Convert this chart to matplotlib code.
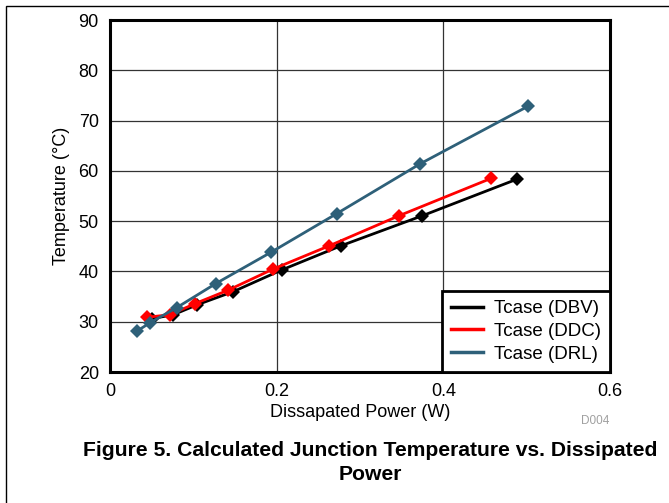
import matplotlib.pyplot as plt
from matplotlib.patches import Rectangle
from matplotlib.lines import Line2D

plt.rcParams['font.family'] = ['Liberation Sans', 'DejaVu Sans']

# ==============================
# Data
# ==============================
dbv_power = [0.050, 0.076, 0.105, 0.148, 0.206, 0.277, 0.375, 0.489]
dbv_temp = [30.6, 31.4, 33.4, 36.0, 40.3, 45.1, 51.1, 58.4]

ddc_power = [0.045, 0.072, 0.102, 0.142, 0.196, 0.263, 0.347, 0.457]
ddc_temp = [30.9, 31.4, 33.6, 36.3, 40.5, 45.1, 51.1, 58.5]

drl_power = [0.033, 0.048, 0.080, 0.127, 0.193, 0.272, 0.372, 0.502]
drl_temp = [28.2, 29.8, 32.8, 37.6, 43.8, 51.5, 61.4, 72.9]

series_names = ["Tcase (DBV)", "Tcase (DDC)", "Tcase (DRL)"]
series_colors = ["#000000", "#ff0000", "#2e6079"]

x_ticks = [0, 0.2, 0.4, 0.6]
x_tick_labels = ["0", "0.2", "0.4", "0.6"]
y_ticks = [20, 30, 40, 50, 60, 70, 80, 90]

# ==============================
# Figure
# ==============================
fig = plt.figure(figsize=(6.69, 5.03), dpi=100)
ax = fig.add_axes([0.1644, 0.2604, 0.7474, 0.6996])

all_x = [dbv_power, ddc_power, drl_power]
all_y = [dbv_temp, ddc_temp, drl_temp]
for xs, ys, col in zip(all_x, all_y, series_colors):
    ax.plot(xs, ys, color=col, lw=2, marker="D", markersize=7.5,
            markeredgewidth=0, zorder=3)

ax.set_xlim(0, 0.6)
ax.set_ylim(20, 90)
ax.set_xticks(x_ticks)
ax.set_xticklabels(x_tick_labels)
ax.set_yticks(y_ticks)
ax.tick_params(length=0, labelsize=13, pad=8)
ax.grid(True, color="#333333", lw=0.9)
ax.set_axisbelow(True)
for sp in ax.spines.values():
    sp.set_linewidth(2.2)

ax.set_xlabel("Dissapated Power (W)", fontsize=13, labelpad=3)
ax.set_ylabel("Temperature (°C)", fontsize=13, labelpad=6)

# legend shows plain line handles
handles = [Line2D([], [], color=c, lw=2.5) for c in series_colors]
leg = ax.legend(handles, series_names, loc="lower right", fontsize=13.5,
                handlelength=1.7, labelspacing=0.3, borderaxespad=0,
                fancybox=False, framealpha=1, handletextpad=0.55,
                borderpad=0.5)
leg.get_frame().set_edgecolor("black")
leg.get_frame().set_linewidth(2)

fig.text(0.89, 0.157, "D004", fontsize=8.5, color="#a0a0a0", ha="center")
fig.text(0.553, 0.081, "Figure 5. Calculated Junction Temperature vs. Dissipated\nPower",
         fontsize=15.2, fontweight="bold", ha="center", va="center",
         linespacing=1.3)

# outer page frame
fig.patches.append(Rectangle((6 / 669, -0.1), 1.2, 1 - 6 / 503 + 0.1,
                             transform=fig.transFigure, fill=False,
                             edgecolor="black", lw=1))

fig.savefig("out.png", dpi=100)
